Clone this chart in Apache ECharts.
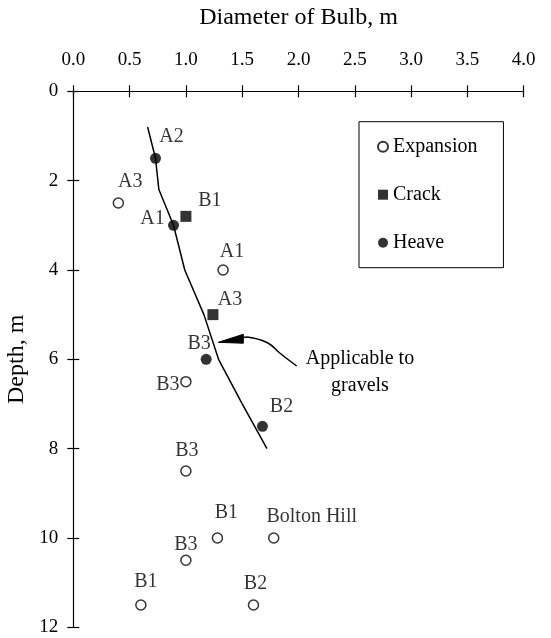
<!DOCTYPE html>
<html>
<head>
<meta charset="utf-8">
<script src="https://cdn.jsdelivr.net/npm/echarts@6/dist/echarts.min.js"></script>
<style>
  html, body { margin: 0; padding: 0; background: #fff; }
  #chart { width: 551px; height: 638px; }
</style>
</head>
<body>
<div id="chart"></div>
<script>
// Bulb diameter (m) against depth (m), by observed ground response
const expansionDiameter = [0.40, 1.33, 1.00, 1.00, 1.28, 1.78, 1.00, 0.60, 1.60];
const expansionDepth    = [2.5, 4.0, 6.5, 8.5, 10.0, 10.0, 10.5, 11.5, 11.5];
const expansionSites    = ['A3', 'A1', 'B3', 'B3', 'B1', 'Bolton Hill', 'B3', 'B1', 'B2'];

const crackDiameter = [1.00, 1.24];
const crackDepth    = [2.8, 5.0];
const crackSites    = ['B1', 'A3'];

const heaveDiameter = [0.73, 0.89, 1.18, 1.68];
const heaveDepth    = [1.5, 3.0, 6.0, 7.5];
const heaveSites    = ['A2', 'A1', 'B3', 'B2'];

// Limit line applicable to gravels
const gravelCurveDiameter = [0.66, 0.73, 0.76, 0.89, 0.99, 1.16, 1.29, 1.50, 1.72];
const gravelCurveDepth    = [0.8, 1.5, 2.2, 3.0, 4.0, 5.0, 6.0, 7.0, 8.0];

const xTickLabels = ['0.0', '0.5', '1.0', '1.5', '2.0', '2.5', '3.0', '3.5', '4.0'];
const yTickLabels = ['0', '2', '4', '6', '8', '10', '12'];

// Label placement (pixel offsets from each marker)
const expansionLabelOffset = [[12, -21], [9, -18], [-18, 3], [1, -20], [9, -25], [38, -21], [0, -16], [5, -23], [2, -21]];
const crackLabelOffset = [[24, -16], [17, -15]];
const heaveLabelOffset = [[16, -22], [-21, -7], [-7, -16], [19, -20]];

// Annotation arrow geometry in axis units (diameter, depth)
const arrowShaft = [[1.51, 5.51], [1.571, 5.51], [1.732, 5.64], [1.836, 5.865], [1.984, 6.15]];
const arrowHead = [[1.288, 5.62], [1.51, 5.44], [1.51, 5.64]];
const noteAnchor = [2.546, 6.28];

const FONT = "'Liberation Serif', 'Times New Roman', serif";

function points(xs, ys, names, offsets) {
  return xs.map((x, i) => ({
    value: [x, ys[i]],
    name: names[i],
    label: { offset: offsets[i] }
  }));
}

const pointLabel = {
  show: true,
  position: 'inside',
  formatter: '{b}',
  color: '#000',
  fontSize: 20,
  fontFamily: FONT,
  align: 'center',
  verticalAlign: 'middle'
};

const chart = echarts.init(document.getElementById('chart'), null, { renderer: 'canvas' });

const axisLineStyle = { color: '#000', width: 1.2 };

chart.setOption({
  animation: false,
  backgroundColor: '#fff',
  grid: { left: 73.3, top: 91.3, right: 27.3, bottom: 10.7, outerBoundsMode: 'none', containLabel: false },
  legend: {
    data: ['Expansion', 'Crack', 'Heave'],
    orient: 'vertical',
    left: 359,
    top: 121.7,
    itemWidth: 10,
    itemHeight: 10,
    itemGap: 28,
    itemTextGap: 12,
    padding: [15, 26, 15, 18],
    borderColor: '#000',
    borderWidth: 1,
    backgroundColor: '#fff',
    selectedMode: false,
    textStyle: { fontSize: 20, fontFamily: FONT, color: '#000', lineHeight: 20 }
  },
  xAxis: [
    {
      type: 'value', position: 'top', min: 0, max: 4, interval: 0.5,
      axisLine: { show: true, onZero: false, lineStyle: axisLineStyle },
      axisTick: { show: true, length: 6, lineStyle: axisLineStyle },
      axisLabel: {
        margin: 22, fontSize: 19, fontFamily: FONT, color: '#000',
        showMinLabel: true, showMaxLabel: true,
        formatter: v => xTickLabels[Math.round(v / 0.5)]
      },
      splitLine: { show: false },
      name: 'Diameter of Bulb, m', nameLocation: 'middle', nameGap: 62,
      nameTextStyle: { fontSize: 24, fontFamily: FONT, color: '#000' }
    },
    {
      type: 'value', position: 'top', min: 0, max: 4, interval: 0.5,
      axisLine: { show: false, onZero: false },
      axisTick: { show: true, inside: true, length: 6, lineStyle: axisLineStyle },
      axisLabel: { show: false },
      splitLine: { show: false }
    }
  ],
  yAxis: [
    {
      type: 'value', position: 'left', inverse: true, min: 0, max: 12, interval: 2,
      axisLine: { show: true, onZero: false, lineStyle: axisLineStyle },
      axisTick: { show: true, length: 6, lineStyle: axisLineStyle },
      axisLabel: {
        margin: 15, fontSize: 19, fontFamily: FONT, color: '#000',
        showMinLabel: true, showMaxLabel: true,
        formatter: v => yTickLabels[Math.round(v / 2)]
      },
      splitLine: { show: false },
      name: 'Depth, m', nameLocation: 'middle', nameGap: 38, nameRotate: 90,
      nameTextStyle: { fontSize: 24, fontFamily: FONT, color: '#000' }
    },
    {
      type: 'value', position: 'left', inverse: true, min: 0, max: 12, interval: 2,
      axisLine: { show: false, onZero: false },
      axisTick: { show: true, inside: true, length: 6, lineStyle: axisLineStyle },
      axisLabel: { show: false },
      splitLine: { show: false }
    }
  ],
  series: [
    {
      name: 'Gravel limit',
      type: 'line',
      data: gravelCurveDiameter.map((x, i) => [x, gravelCurveDepth[i]]),
      showSymbol: false,
      symbol: 'none',
      lineStyle: { color: '#000', width: 1.5 },
      z: 1
    },
    {
      name: 'Expansion',
      type: 'scatter',
      symbol: 'circle',
      symbolSize: 10,
      itemStyle: { color: '#fff', borderColor: '#000', borderWidth: 1.5 },
      label: pointLabel,
      data: points(expansionDiameter, expansionDepth, expansionSites, expansionLabelOffset),
      z: 3
    },
    {
      name: 'Crack',
      type: 'scatter',
      symbol: 'rect',
      symbolSize: 11,
      itemStyle: { color: '#000' },
      label: pointLabel,
      data: points(crackDiameter, crackDepth, crackSites, crackLabelOffset),
      z: 3
    },
    {
      name: 'Heave',
      type: 'scatter',
      symbol: 'circle',
      symbolSize: 11,
      itemStyle: { color: '#000' },
      label: pointLabel,
      data: points(heaveDiameter, heaveDepth, heaveSites, heaveLabelOffset),
      z: 3
    }
  ]
});

// Callout pointing at the gravel limit line
const toPx = p => chart.convertToPixel({ seriesIndex: 0 }, p);
const notePos = toPx(noteAnchor);
chart.setOption({
  graphic: [
    {
      type: 'polyline',
      shape: { points: arrowShaft.map(toPx), smooth: 0.4 },
      style: { stroke: '#000', lineWidth: 1.5, fill: null },
      z: 5
    },
    {
      type: 'polygon',
      shape: { points: arrowHead.map(toPx) },
      style: { fill: '#000', stroke: '#000', lineWidth: 1 },
      z: 5
    },
    {
      type: 'text',
      x: notePos[0],
      y: notePos[1],
      style: {
        text: 'Applicable to\ngravels',
        fontSize: 20,
        fontFamily: FONT,
        fill: '#000',
        align: 'center',
        verticalAlign: 'middle',
        lineHeight: 27
      },
      z: 5
    }
  ]
});
</script>
</body>
</html>
